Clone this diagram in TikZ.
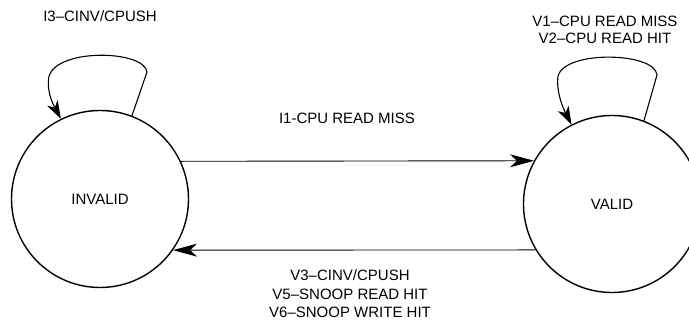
\documentclass[tikz,border=0pt]{standalone}
\usepackage{fontspec}
\setmainfont{Liberation Sans}
\usetikzlibrary{arrows.meta}
\begin{document}
\begin{tikzpicture}[x=1pt,y=-1pt,
  state/.style={draw, circle, line width=1.4pt, minimum size=177pt, inner sep=0pt, font=\fontsize{15}{18}\selectfont},
  lbl/.style={align=center, inner sep=0pt, font=\fontsize{15}{18}\selectfont},
  trans/.style={line width=0.9pt, -{Stealth[length=24pt,width=13pt,inset=7pt]}},
  selfloop/.style={line width=1.1pt, -{Stealth[length=18pt,width=12pt,inset=5pt]}}]
\useasboundingbox (0,0) rectangle (689,331);
\node[state] (inv) at (100,199) {INVALID};
\node[state] (val) at (612,204) {VALID};
\node[lbl] (l3) at (100,16) {I3--CINV/CPUSH};
\node[lbl, font=\fontsize{15}{17}\selectfont] (lv) at (605,30) {V1--CPU READ MISS\\V2--CPU READ HIT};
\node[lbl] (l1) at (347,118) {I1-CPU READ MISS};
\node[lbl, font=\fontsize{15}{18.5}\selectfont] (lb) at (350,294) {V3--CINV/CPUSH\\V5--SNOOP READ HIT\\V6--SNOOP WRITE HIT};
\coordinate (ia) at (147,72);
\coordinate (ib) at (49,76);
\coordinate (va) at (657,75);
\coordinate (vb) at (558,76);
\draw[trans] (inv.25.4) -- (val.151);
\draw[trans] (val.211.3) -- (inv.-35.2);
\draw[selfloop] (inv.69) -- (ia) .. controls (144,50) and (58,48) .. (ib) .. controls (46,92) and (54,106) .. (inv.116);
\draw[selfloop] (val.69) -- (va) .. controls (655,52) and (565,50) .. (vb) .. controls (556,92) and (563,108) .. (val.117);
\end{tikzpicture}
\end{document}
